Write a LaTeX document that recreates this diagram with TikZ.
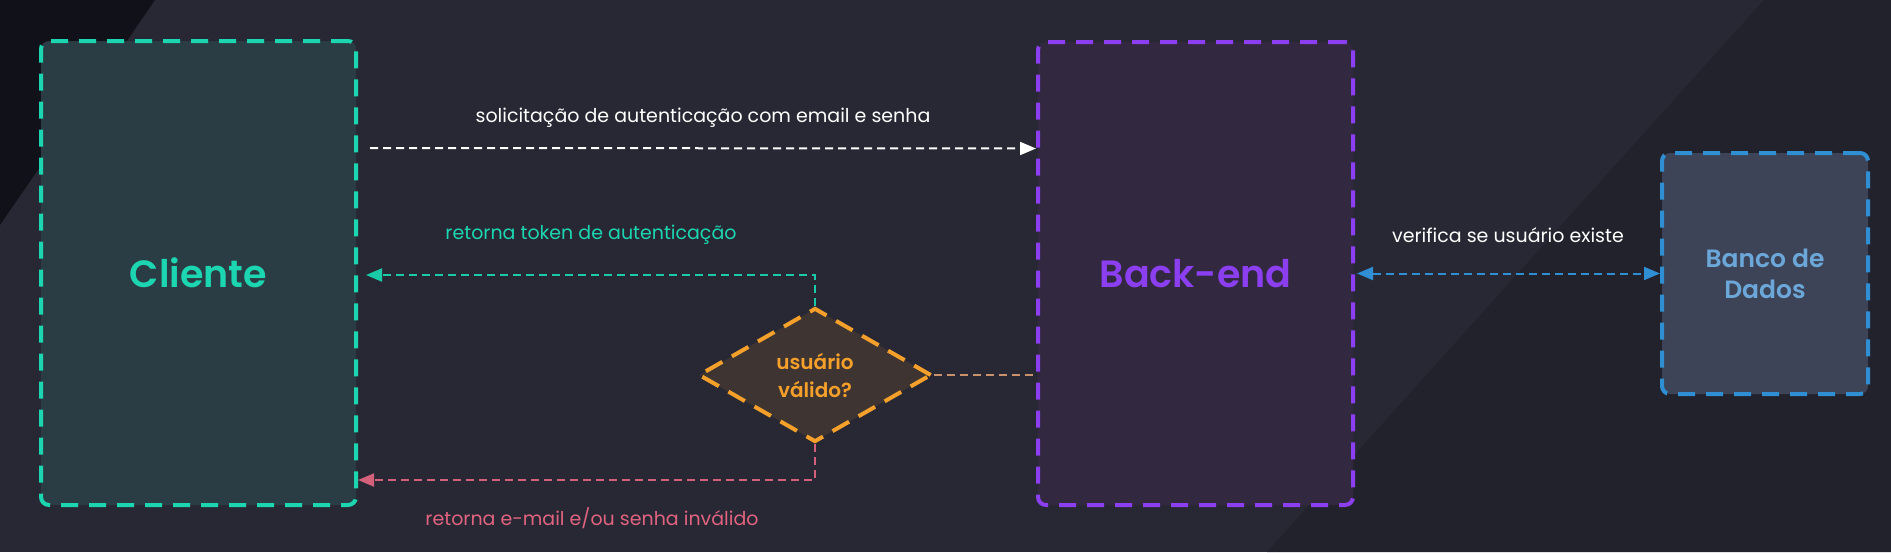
\documentclass[tikz,border=0pt]{standalone}
\usepackage{fontspec}
\setmainfont{Poppins}[BoldFont={Poppins SemiBold}]
\usetikzlibrary{arrows.meta,shapes.geometric,calc}
\definecolor{bg}{HTML}{282834}
\definecolor{bgdark}{HTML}{111119}
\definecolor{bglow}{HTML}{22222D}
\definecolor{tealc}{HTML}{1CD6B1}
\definecolor{tealfill}{HTML}{2B3D44}
\definecolor{tealline}{HTML}{19C9A7}
\definecolor{purplec}{HTML}{8B3FF0}
\definecolor{purplefill}{HTML}{322840}
\definecolor{bluec}{HTML}{2F8FD2}
\definecolor{bluefill}{HTML}{3D4457}
\definecolor{bluetext}{HTML}{6CA7D9}
\definecolor{orangec}{HTML}{F5A02A}
\definecolor{orangefill}{HTML}{3E3432}
\definecolor{orangeline}{HTML}{C9926C}
\definecolor{pinkc}{HTML}{D4607C}
\definecolor{pinktext}{HTML}{E0637F}
\begin{document}
\begin{tikzpicture}[x=1pt,y=-1pt,
  box/.style={rectangle, rounded corners=8pt, line width=4pt, dash pattern=on 17pt off 11pt, inner sep=0pt},
  conn/.style={line width=2pt, dash pattern=on 8pt off 5pt},
  tip/.style={-{Triangle[length=16pt,width=13pt]}},
  lbl/.style={inner sep=0pt, font=\fontsize{19}{22}\selectfont},
  title/.style={font=\fontsize{38}{40}\selectfont\bfseries}
]
\useasboundingbox (0,0) rectangle (1891,552);
\fill[bg] (0,0) rectangle (1891,552);
\fill[bgdark] (0,0) -- (155,0) -- (0,225) -- cycle;
\fill[bglow] (1764,0) -- (1891,0) -- (1891,552) -- (1267,552) -- cycle;

\node[box, draw=tealc, fill=tealfill, minimum width=315pt, minimum height=464pt, text=tealc, title] (cli) at (198.5,273) {Cliente};
\node[box, draw=purplec, fill=purplefill, minimum width=315pt, minimum height=463pt, text=purplec, title] (back) at (1195.5,273.5) {Back-end};
\node[box, draw=bluec, fill=bluefill, minimum width=206pt, minimum height=241pt, text=bluetext, align=center, font=\fontsize{25}{31}\selectfont\bfseries] (db) at (1765,273.5) {Banco de\\Dados};
\node[diamond, draw=orangec, fill=orangefill, line width=4pt, dash pattern=on 19pt off 11pt, minimum width=233pt, minimum height=134pt, inner sep=0pt, text=orangec, align=center, font=\fontsize{20}{28}\selectfont\bfseries] (dec) at (815,375) {usuário\\válido?};

\draw[conn, white, tip] ([xshift=12pt,yshift=125pt]cli.east) -- ([yshift=125pt]back.west);
\draw[conn, tealline, tip] (dec.north) |- ([xshift=8pt,yshift=-2pt]cli.east);
\draw[conn, pinkc, tip] (dec.south) |- ([yshift=-207pt]cli.east);
\draw[conn, orangeline] (dec.east) -- (dec.east -| back.west);
\draw[conn, bluec, {Triangle[length=16pt,width=13pt]}-{Triangle[length=16pt,width=13pt]}] ([xshift=2pt]back.east) -- (db.west);

\node[lbl, text=white] (l1) at (703,118) {solicitação de autenticação com email e senha};
\node[lbl, text=tealc] (l2) at (591,235) {retorna token de autenticação};
\node[lbl, text=pinktext] (l3) at (592,518) {retorna e-mail e/ou senha inválido};
\node[lbl, text=white] (l4) at (1508,235) {verifica se usuário existe};
\end{tikzpicture}
\end{document}
